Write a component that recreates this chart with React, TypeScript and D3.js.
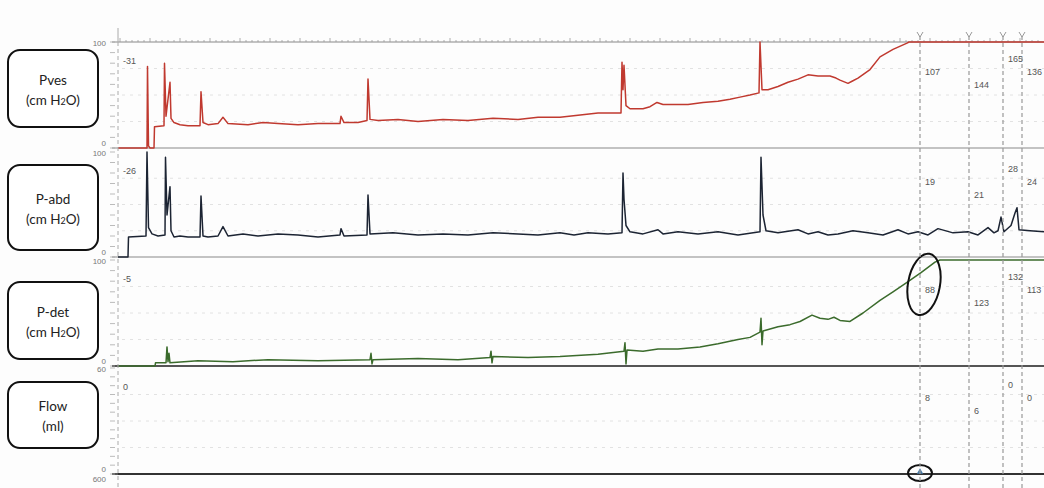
import React, { useEffect, useRef } from 'react';
import * as d3 from 'd3';

// time in s from start of trace, values in cm H2O (flow in ml)
const pvesTrace: [number, number][] = [
    [0, 0], [29, 0], [29.5, 77], [30.5, 2], [32, 0], [36, 0], [36.5, 20], [46, 21], [46.5, 80], [48, 30], [52, 62], [53, 28],
    [56, 24], [62, 22], [70, 21], [82, 21], [83, 53], [85, 24], [90, 22], [100, 23], [105, 29], [110, 23], [130, 22],
    [145, 24], [160, 23], [180, 22], [200, 23], [222, 23], [223, 30], [226, 24], [240, 24], [249, 26], [250, 65], [252, 27],
    [260, 26], [280, 27], [300, 25], [325, 27], [350, 26], [375, 28], [400, 27], [420, 29], [442, 29], [460, 31], [480, 33],
    [503, 33], [504, 81], [505, 55], [506, 78], [508, 40], [512, 37], [525, 37], [532, 39], [539, 43], [545, 41], [570, 41],
    [585, 43], [600, 44], [612, 46], [622, 48], [632, 50], [641, 52], [642, 100], [644, 55], [650, 55], [660, 58],
    [670, 62], [680, 65], [690, 69], [700, 68], [712, 68], [718, 66], [722, 64], [730, 61], [734, 63], [740, 66], [752, 74],
    [762, 86], [775, 93], [789, 99], [791, 100], [926, 100]
];

const pabdTrace: [number, number][] = [
    [0, 0], [10, 0], [10.5, 19], [28, 20], [29, 100], [30.5, 28], [34, 22], [40, 20], [47, 21], [47.5, 95], [49, 40],
    [52, 67], [53, 25], [56, 19], [62, 20], [70, 19], [82, 19], [83, 58], [85, 20], [90, 19], [100, 20], [105, 29],
    [110, 20], [125, 22], [140, 20], [160, 22], [180, 21], [200, 19], [222, 21], [223, 27], [226, 20], [249, 21],
    [250, 59], [252, 22], [275, 23], [300, 21], [325, 22], [350, 21], [375, 23], [400, 22], [420, 21], [442, 23],
    [456, 21], [470, 23], [490, 22], [504, 23], [505, 80], [506, 55], [508, 30], [512, 24], [525, 22], [540, 26],
    [545, 22], [560, 24], [580, 22], [600, 24], [620, 21], [642, 24], [643, 95], [645, 40], [648, 25], [660, 23],
    [680, 26], [690, 22], [700, 24], [710, 21], [720, 22], [735, 25], [750, 23], [765, 21], [780, 26], [790, 22],
    [800, 24], [810, 21], [820, 27], [835, 23], [850, 24], [860, 21], [870, 28], [876, 23], [880, 25], [883, 38],
    [886, 24], [893, 30], [897, 42], [899, 47], [901, 26], [912, 25], [926, 24]
];

const pdetTrace: [number, number][] = [
    [0, 0], [37, 0], [37.5, 3], [48, 3], [49, 18], [50, 4], [51, 12], [52, 3], [80, 5], [115, 4], [150, 6], [200, 5],
    [252, 6], [253, 12], [254, 2], [255, 6], [300, 7], [340, 6], [372, 8], [373, 14], [374, 3], [375, 9], [410, 8],
    [442, 9], [480, 11], [506, 14], [507, 22], [508, 2], [509, 15], [525, 14], [540, 16], [560, 16], [582, 18],
    [600, 21], [620, 25], [632, 27], [642, 32], [643, 45], [644, 20], [645, 33], [660, 37], [672, 39], [682, 42],
    [694, 48], [702, 45], [710, 44], [716, 46], [722, 43], [732, 42], [745, 50], [762, 62], [775, 70], [789, 79],
    [803, 88], [817, 98], [822, 100], [926, 100]
];

const flowTrace: [number, number][] = [[0, 0], [926, 0]];

const channelNames = ['Pves', 'P-abd', 'P-det', 'Flow'];
const channelUnits = ['cm H2O', 'cm H2O', 'cm H2O', 'ml'];
const channelMax = [100, 100, 100, 60];
const startValues = ['-31', '-26', '-5', '0'];

const eventTimes = [802, 851, 885, 904];
const eventPves = ['107', '144', '165', '136'];
const eventPabd = ['19', '21', '28', '24'];
const eventPdet = ['88', '123', '132', '113'];
const eventFlow = ['8', '6', '0', '0'];

export default function App() {
    const ref = useRef<SVGSVGElement>(null);

    useEffect(() => {
        const svg = d3.select(ref.current);
        svg.selectAll('*').remove();

        const width = 1044, height = 488;
        const x = d3.scaleLinear().domain([0, 926]).range([118, 1044]);

        const panels = [
            { top: 42, bottom: 148, color: '#c0392f', data: pvesTrace, events: eventPves, box: [50, 127] },
            { top: 152, bottom: 257, color: '#1c2433', data: pabdTrace, events: eventPabd, box: [165, 250] },
            { top: 260, bottom: 366, color: '#3b6b2c', data: pdetTrace, events: eventPdet, box: [282, 359] },
            { top: 368, bottom: 474, color: '#333', data: flowTrace, events: eventFlow, box: [382, 448] }
        ];
        const stagger = [33, 46, 20, 33];

        svg.append('rect').attr('width', width).attr('height', height).attr('fill', '#fdfdfd');

        // top ruler
        svg.append('line').attr('x1', 112).attr('x2', width).attr('y1', 42).attr('y2', 42)
            .attr('stroke', '#888').attr('stroke-width', 1);
        svg.append('g').selectAll('line')
            .data(d3.range(120, width, 6))
            .join('line')
            .attr('x1', d => d).attr('x2', d => d)
            .attr('y1', (d, i) => i % 5 === 0 ? 38 : 40).attr('y2', 42)
            .attr('stroke', '#999').attr('stroke-width', 0.8);
        svg.append('line').attr('x1', 118).attr('x2', 118).attr('y1', 28).attr('y2', 42).attr('stroke', '#aaa');

        panels.forEach((p, i) => {
            const y = d3.scaleLinear().domain([0, channelMax[i]]).range([p.bottom, p.top]).clamp(true);
            const g = svg.append('g');

            // faint grid
            g.selectAll('line.grid')
                .data([0.25, 0.5, 0.75].map(f => f * channelMax[i]))
                .join('line')
                .attr('x1', 122).attr('x2', width)
                .attr('y1', d => y(d)).attr('y2', d => y(d))
                .attr('stroke', '#e2e2e2').attr('stroke-dasharray', '3,5');

            // baseline
            g.append('line').attr('x1', 112).attr('x2', width)
                .attr('y1', p.bottom).attr('y2', p.bottom)
                .attr('stroke', i >= 2 ? '#555' : '#8a8a8a').attr('stroke-width', i >= 2 ? 1.8 : 1.2);

            // left axis ticks
            g.selectAll('line.tick')
                .data(y.ticks(10))
                .join('line')
                .attr('x1', 110).attr('x2', 115)
                .attr('y1', d => y(d)).attr('y2', d => y(d))
                .attr('stroke', '#aaa').attr('stroke-width', 0.8);
            g.append('text').attr('x', 106).attr('y', p.top + 4).attr('text-anchor', 'end')
                .attr('font-size', 8).attr('fill', '#777').attr('font-family', 'Liberation Sans, Arial')
                .text(channelMax[i]);
            g.append('text').attr('x', 106).attr('y', p.bottom - 2).attr('text-anchor', 'end')
                .attr('font-size', 8).attr('fill', '#777').attr('font-family', 'Liberation Sans, Arial')
                .text('0');

            // start value
            g.append('text').attr('x', 123).attr('y', p.top + 22)
                .attr('font-size', 9).attr('fill', '#555').attr('font-family', 'Liberation Sans, Arial')
                .text(startValues[i]);

            // trace
            const line = d3.line<[number, number]>().x(d => x(d[0])).y(d => y(d[1]));
            g.append('path').datum(p.data)
                .attr('d', line)
                .attr('fill', 'none')
                .attr('stroke', p.color)
                .attr('stroke-width', i === 3 ? 2 : 1.5)
                .attr('stroke-linejoin', 'round');

            // event values
            g.selectAll('text.ev')
                .data(eventTimes)
                .join('text')
                .attr('x', d => x(d) + 5)
                .attr('y', (d, k) => p.top + stagger[k])
                .attr('font-size', 9).attr('fill', '#555').attr('font-family', 'Liberation Sans, Arial')
                .text((d, k) => p.events[k]);

            // channel label box
            const bx = 8, bw = 90, bh = p.box[1] - p.box[0];
            g.append('rect').attr('x', bx).attr('y', p.box[0]).attr('width', bw).attr('height', bh)
                .attr('rx', 12).attr('fill', '#fff').attr('stroke', '#111').attr('stroke-width', 2);
            const cy = p.box[0] + bh / 2;
            g.append('text').attr('x', bx + bw / 2).attr('y', cy - 4).attr('text-anchor', 'middle')
                .attr('font-size', 13.5).attr('fill', '#222').attr('font-family', 'Lato, Open Sans, sans-serif')
                .text(channelNames[i]);
            const unit = g.append('text').attr('x', bx + bw / 2).attr('y', cy + 16).attr('text-anchor', 'middle')
                .attr('font-size', 13.5).attr('fill', '#222').attr('font-family', 'Lato, Open Sans, sans-serif');
            if (channelUnits[i] === 'cm H2O') {
                unit.append('tspan').text('(cm H');
                unit.append('tspan').attr('font-size', 9).text('2');
                unit.append('tspan').text('O)');
            } else {
                unit.text(`(${channelUnits[i]})`);
            }

            if (i === 2) {
                svg.append('ellipse')
                    .attr('transform', `translate(${x(eventTimes[0]) + 4},${y(77)}) rotate(10)`)
                    .attr('rx', 16).attr('ry', 31)
                    .attr('fill', 'none').attr('stroke', '#111').attr('stroke-width', 2);
            }
            if (i === 3) {
                svg.append('ellipse')
                    .attr('cx', x(eventTimes[0])).attr('cy', y(0) - 1)
                    .attr('rx', 12).attr('ry', 8)
                    .attr('fill', 'none').attr('stroke', '#111').attr('stroke-width', 2);
                svg.append('path')
                    .attr('d', d3.symbol(d3.symbolTriangle, 18)())
                    .attr('transform', `translate(${x(eventTimes[0])},${y(0) - 2})`)
                    .attr('fill', '#4a7ca8');
                svg.append('text').attr('x', 106).attr('y', p.bottom + 8).attr('text-anchor', 'end')
                    .attr('font-size', 8).attr('fill', '#777').attr('font-family', 'Liberation Sans, Arial')
                    .text('600');
            }
        });

        // left dashed line and event lines
        svg.append('line').attr('x1', 118).attr('x2', 118).attr('y1', 42).attr('y2', height)
            .attr('stroke', '#aaa').attr('stroke-dasharray', '4,3');
        svg.append('g').selectAll('line')
            .data(eventTimes)
            .join('line')
            .attr('x1', d => x(d)).attr('x2', d => x(d))
            .attr('y1', 36).attr('y2', height)
            .attr('stroke', '#999').attr('stroke-width', 1.2).attr('stroke-dasharray', '4,3');
        svg.append('g').selectAll('path')
            .data(eventTimes)
            .join('path')
            .attr('d', d => `M${x(d) - 3},32 L${x(d)},37 L${x(d) + 3},32`)
            .attr('fill', 'none').attr('stroke', '#999');
    }, []);

    return (
        <div style={{ position: 'absolute', left: 0, top: 0 }}>
            <svg ref={ref} width={1044} height={488} style={{ display: 'block' }} />
        </div>
    );
}
